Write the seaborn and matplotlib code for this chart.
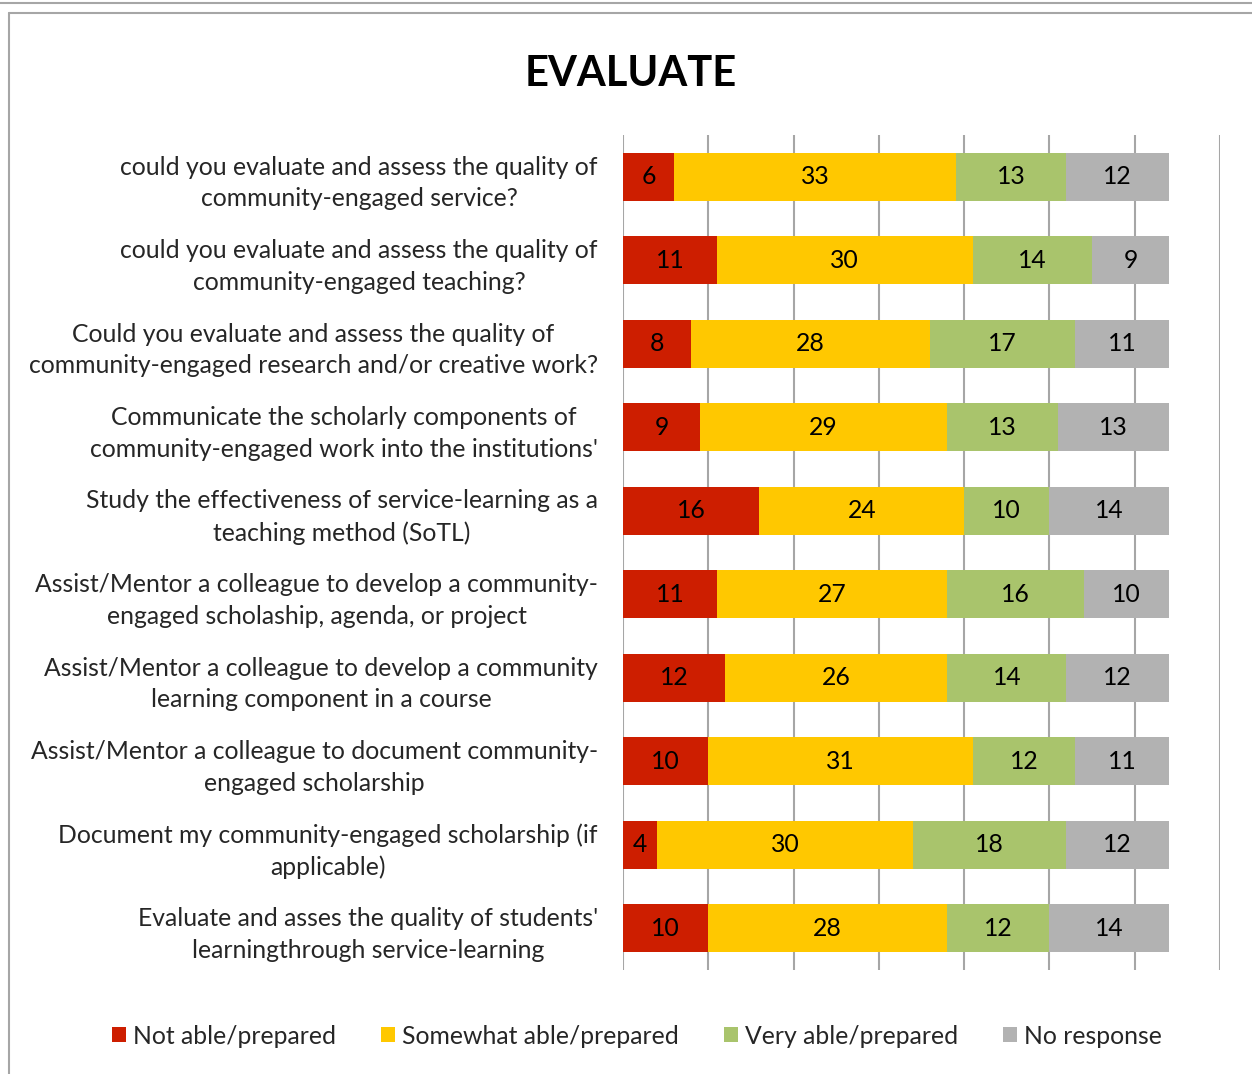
import numpy as np
import pandas as pd
import matplotlib
matplotlib.use("Agg")
import matplotlib.pyplot as plt
from matplotlib.lines import Line2D
from matplotlib.patches import Patch
import seaborn as sns

# Survey items (multi-line labels as shown on the axis)
items = [
    "could you evaluate and assess the quality of\ncommunity-engaged service?",
    "could you evaluate and assess the quality of\ncommunity-engaged teaching?",
    "Could you evaluate and assess the quality of\ncommunity-engaged research and/or creative work?",
    "Communicate the scholarly components of\ncommunity-engaged work into the institutions'",
    "Study the effectiveness of service-learning as a\nteaching method (SoTL)",
    "Assist/Mentor a colleague to develop a community-\nengaged scholaship, agenda, or project",
    "Assist/Mentor a colleague to develop a community\nlearning component in a course",
    "Assist/Mentor a colleague to document community-\nengaged scholarship",
    "Document my community-engaged scholarship (if\napplicable)",
    "Evaluate and asses the quality of students'\nlearningthrough service-learning",
]

not_able = [6, 11, 8, 9, 16, 11, 12, 10, 4, 10]
somewhat_able = [33, 30, 28, 29, 24, 27, 26, 31, 30, 28]
very_able = [13, 14, 17, 13, 10, 16, 14, 12, 18, 12]
no_response = [12, 9, 11, 13, 14, 10, 12, 11, 12, 14]

series_names = ["Not able/prepared", "Somewhat able/prepared",
                "Very able/prepared", "No response"]
series_colors = ["#CD1E00", "#FFC800", "#A9C46C", "#B2B2B2"]

sns.set_theme(style="white")
plt.rcParams["font.family"] = ["Lato", "DejaVu Sans"]

FS = 17.8
W, H = 1252, 1074
fig = plt.figure(figsize=(W / 100, H / 100), dpi=100)
ax = fig.add_axes([623 / W, 1 - 970 / H, (1220 - 623) / W, (970 - 135) / H])

series = [not_able, somewhat_able, very_able, no_response]
df = pd.DataFrame({name: vals for name, vals in zip(series_names, series)})
df["item"] = items
cum = df[series_names].cumsum(axis=1)

# Stack by overlaying cumulative totals, longest first
for name, color in reversed(list(zip(series_names, series_colors))):
    sns.barplot(x=cum[name], y=df["item"], orient="h", color=color,
                width=0.57, linewidth=0, saturation=1, ax=ax)

# Segment value labels
for name in series_names:
    for i, (v, c) in enumerate(zip(df[name], cum[name])):
        ax.text(c - v / 2, i, f"{v}", ha="center", va="center",
                fontsize=FS, color="black")

ax.set_xlim(0, 70)
ax.set_ylim(9.5, -0.5)
ax.set_xticks(np.arange(0, 71, 10))
ax.set_xticklabels([])
ax.xaxis.grid(True, color="#A6A6A6", linewidth=1.5)
ax.set_axisbelow(True)
ax.set_xlabel("")
ax.set_ylabel("")
for s in ax.spines.values():
    s.set_visible(False)
ax.tick_params(axis="y", length=0, pad=18, labelsize=FS)
ax.tick_params(axis="x", length=0)
for lbl in ax.get_yticklabels():
    lbl.set_multialignment("center")
    lbl.set_linespacing(1.45)

fig.text(631 / W, 1 - 74 / H, "EVALUATE", ha="center", va="center",
         fontsize=30, fontweight="bold", color="black")

handles = [Patch(facecolor=c, edgecolor="none") for c in series_colors]
fig.legend(handles, series_names, loc="center", bbox_to_anchor=(637 / W, 1 - 1036 / H),
           ncol=4, frameon=False, fontsize=FS, handlelength=0.57, handleheight=0.57,
           handletextpad=0.3, columnspacing=1.8)

# Chart frame
frame_color = "#A6A6A6"
fig.add_artist(Line2D([0, 1], [1 - 2.5 / H, 1 - 2.5 / H], transform=fig.transFigure,
                      color=frame_color, linewidth=1.5))
fig.add_artist(Line2D([8.5 / W, 1], [1 - 12.5 / H, 1 - 12.5 / H], transform=fig.transFigure,
                      color=frame_color, linewidth=1.5))
fig.add_artist(Line2D([8.5 / W, 8.5 / W], [1 - 12.5 / H, 0], transform=fig.transFigure,
                      color=frame_color, linewidth=1.5))

fig.savefig("out.png", dpi=100, facecolor="white")
